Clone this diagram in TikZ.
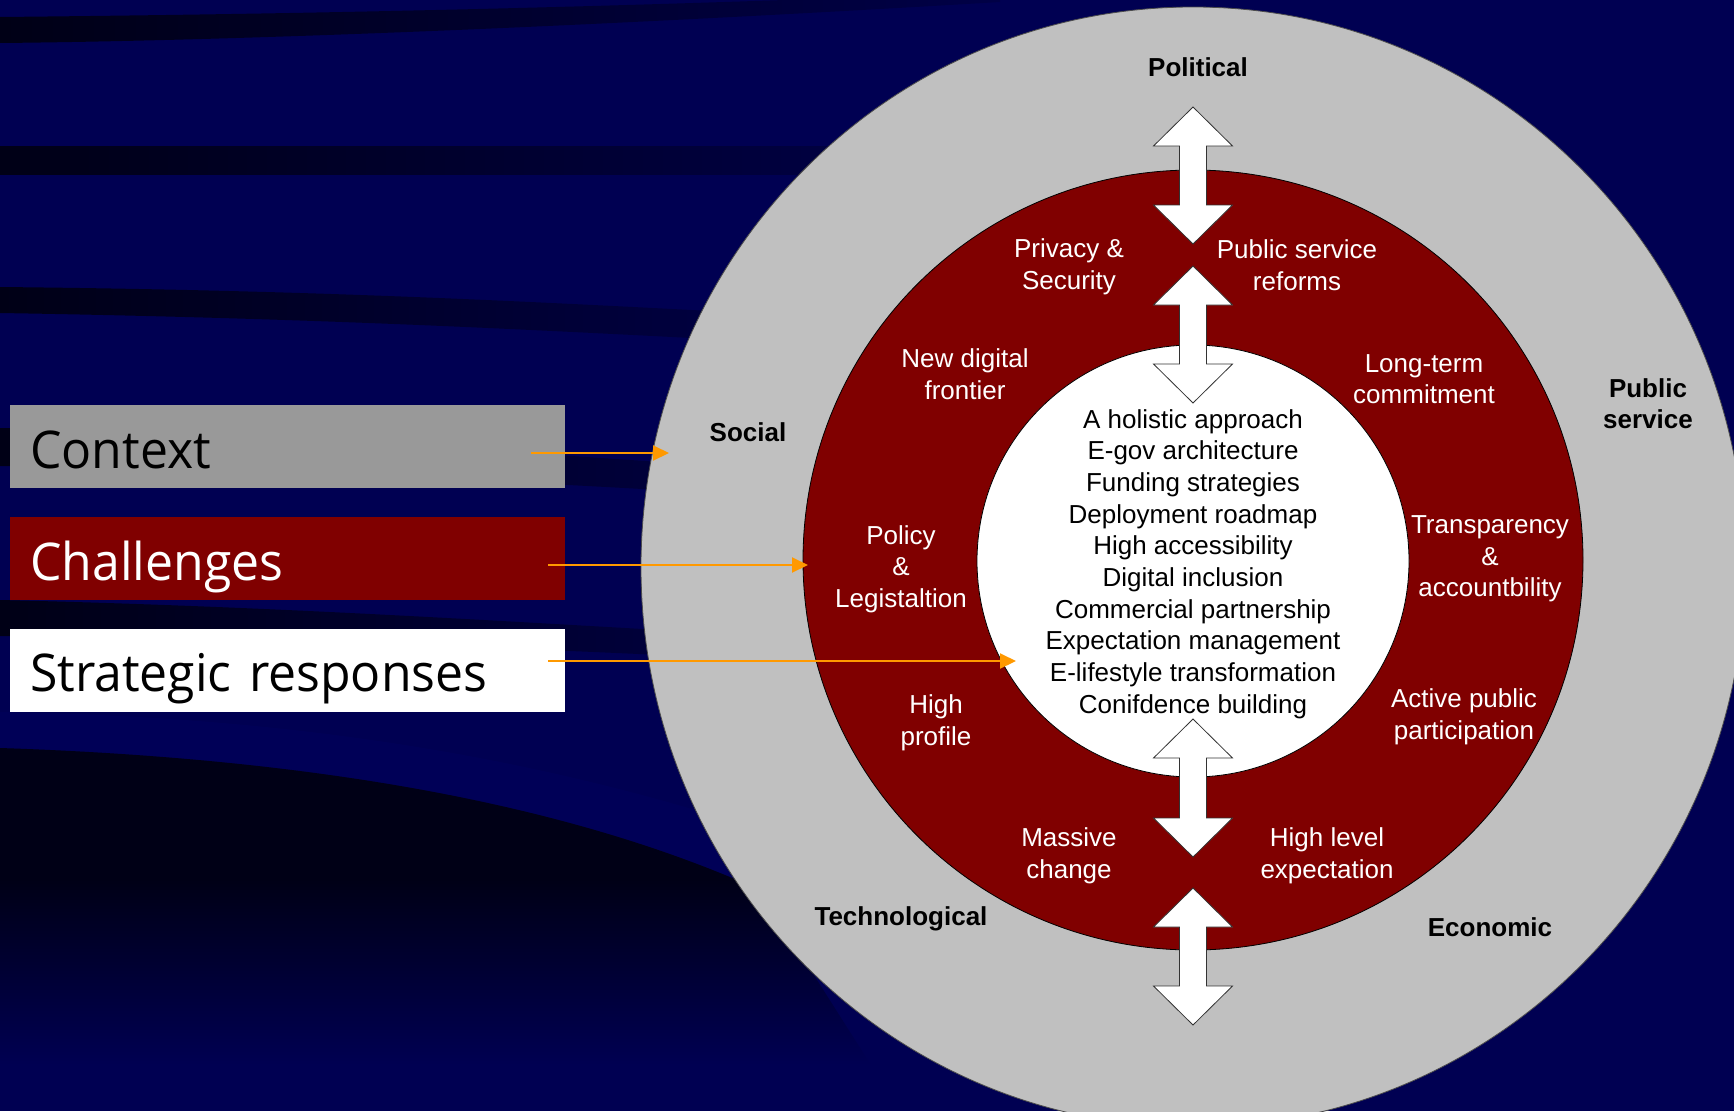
\documentclass[tikz,border=0pt]{standalone}
\usepackage{fontspec}
\setmainfont{Liberation Sans}
\newfontfamily\legendfont[FakeStretch=0.96]{Open Sans}
\usetikzlibrary{positioning}
\usetikzlibrary{arrows.meta}

\definecolor{navybg}{RGB}{0,0,82}
\definecolor{navylight}{RGB}{0,0,87}
\definecolor{stripedark}{RGB}{0,0,22}
\definecolor{ringgray}{RGB}{192,192,192}
\definecolor{ctxgray}{RGB}{153,153,153}
\definecolor{chalred}{RGB}{128,0,0}
\definecolor{feedorange}{RGB}{255,153,0}

\begin{document}
\begin{tikzpicture}[x=1pt, y=-1pt,
  ringtxt/.style={text=white, align=center, font=\fontsize{26}{31.5}\selectfont},
  forcetxt/.style={align=center, font=\bfseries\fontsize{26}{31}\selectfont},
  coretxt/.style={align=center, font=\fontsize{26}{31.7}\selectfont},
  legbox/.style={minimum height=83pt, text width=515pt, inner xsep=20pt, inner ysep=0pt,
    text height=43pt, text depth=0pt, align=left, font=\legendfont\fontsize{52}{60}\selectfont},
  feed/.style={draw=feedorange, line width=2pt, -{Triangle[length=16pt,width=15pt]}},
  twoway/.style={draw=black!80, fill=white, line width=0.8pt}]

\useasboundingbox (0,0) rectangle (1734,1111);
\clip (0,0) rectangle (1734,1111);

% background and swooshes
\fill [navybg] (0,0) rectangle (1734,1111);
\shade [left color=stripedark, right color=navybg!80!stripedark] (0,17) .. controls (300,14) and (600,8) .. (1000,-8) -- (1000,2) .. controls (700,20) and (300,40) .. (0,43) -- cycle;
\shade [left color=stripedark, right color=navybg!70!stripedark] (0,146) rectangle (830,174);
\shade [left color=stripedark, right color=navybg!70!stripedark] (0,287) .. controls (300,290) and (500,300) .. (730,312) -- (730,340) .. controls (500,328) and (300,318) .. (0,313) -- cycle;
\shade [left color=stripedark, right color=navybg!60!stripedark] (0,428) .. controls (250,432) and (450,448) .. (660,462) -- (660,490) .. controls (450,478) and (250,470) .. (0,466) -- cycle;
\shade [left color=stripedark, right color=navybg!60!stripedark] (0,600) .. controls (250,606) and (450,618) .. (660,630) -- (660,655) .. controls (450,645) and (250,640) .. (0,636) -- cycle;
\fill [navylight] (0,712) .. controls (250,716) and (500,745) .. (760,830) -- (760,890) .. controls (560,800) and (300,758) .. (0,748) -- cycle;
\begin{scope}
  \clip (0,748) .. controls (300,758) and (560,800) .. (760,890) -- (900,1111) -- (0,1111) -- cycle;
  \fill [stripedark] (0,740) rectangle (900,880);
  \shade [top color=stripedark, bottom color=navybg] (0,879) rectangle (900,1065);
\end{scope}

% rings
\filldraw [fill=ringgray, draw=black!70, line width=0.8pt] (1193,567) ellipse [x radius=552, y radius=560];
\filldraw [fill=chalred, draw=black, line width=0.8pt] (1193,560) circle [radius=390];
\filldraw [fill=white, draw=black, line width=0.8pt] (1193,561) circle [radius=216];

% two way arrows
\foreach \ya/\yb in {107/244, 266/403, 719/857, 888/1025}
  \draw [twoway] (1193,\ya) -- (1232.5,\ya+39) -- (1206.5,\ya+39) -- (1206.5,\yb-39) -- (1232.5,\yb-39) -- (1193,\yb) -- (1153.5,\yb-39) -- (1179.5,\yb-39) -- (1179.5,\ya+39) -- (1153.5,\ya+39) -- cycle;

% outer ring
\node [forcetxt] (political) at (1198,67) {Political};
\node [forcetxt] (social) at (748,432) {Social};
\node [forcetxt] (pubsvc) at (1648,404) {Public\\service};
\node [forcetxt] (techno) at (901,919) {Technological};
\node [forcetxt] (econ) at (1490,927) {Economic};

% middle ring
\node [ringtxt] (privacy) at (1069,267) {Privacy \&\\Security};
\node [ringtxt] (reforms) at (1297,265) {Public service\\reforms};
\node [ringtxt] (frontier) at (965,374) {New digital\\frontier};
\node [ringtxt] (longterm) at (1424,379) {Long-term\\commitment};
\node [ringtxt] (policy) at (901,569) {Policy\\\&\\Legistaltion};
\node [ringtxt] (transp) at (1490,559) {Transparency\\\&\\accountbility};
\node [ringtxt] (profile) at (936,723) {High\\profile};
\node [ringtxt] (active) at (1464,717) {Active public\\participation};
\node [ringtxt] (massive) at (1069,856) {Massive\\change};
\node [ringtxt] (highlvl) at (1327,856) {High level\\expectation};

% core
\node [coretxt] (core) at (1193,564) {A holistic approach\\E-gov architecture\\Funding strategies\\Deployment roadmap\\High accessibility\\Digital inclusion\\Commercial partnership\\Expectation management\\E-lifestyle transformation\\Conifdence building};

% legend
\node [legbox, fill=ctxgray, anchor=west] (ctx) at (10,446.5) {Context};
\node [legbox, fill=chalred, text=white, below=29pt of ctx] (chal) {Challenges};
\node [legbox, fill=white, below=28pt of chal] (strat) {Strategic responses};

\coordinate (ctxfrom) at (531,453);
\coordinate (ctxto) at (669,453);
\coordinate (chalfrom) at (548,565);
\coordinate (chalto) at (808,565);
\coordinate (stratfrom) at (548,661);
\coordinate (stratto) at (1016,661);
\draw [feed] (ctxfrom) -- (ctxto);
\draw [feed] (chalfrom) -- (chalto);
\draw [feed] (stratfrom) -- (stratto);

\end{tikzpicture}
\end{document}
